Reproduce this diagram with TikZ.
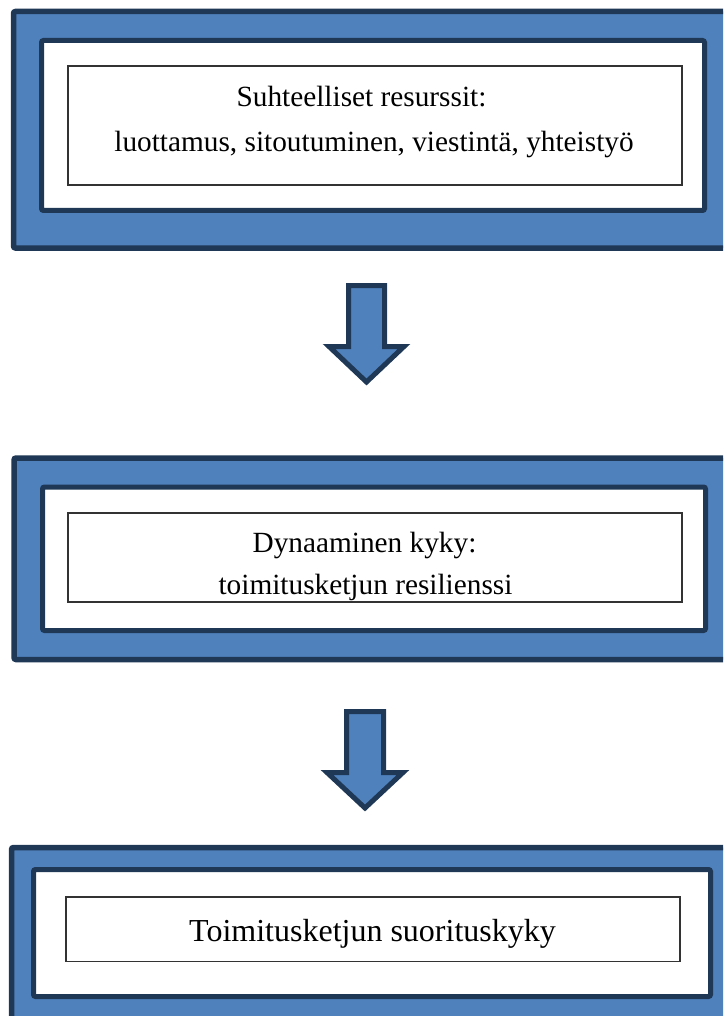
\documentclass[tikz,border=0pt]{standalone}
\usepackage{fontspec}
\setmainfont{Liberation Serif}
\definecolor{frameblue}{HTML}{4F81BD}
\definecolor{framedark}{HTML}{1F3855}
\definecolor{boxline}{HTML}{333333}
\begin{document}
\begin{tikzpicture}[x=1pt,y=-1pt,
  outerframe/.style={draw=framedark,fill=frameblue,line width=5.5pt,rounded corners=2pt},
  innerframe/.style={draw=framedark,fill=white,line width=5pt,rounded corners=2pt},
  textbox/.style={draw=boxline,fill=white,line width=1.3pt},
  blockarrow/.style={draw=framedark,fill=frameblue,line width=5pt,line join=miter},
  lbl/.style={anchor=base,inner sep=0pt,font=\fontsize{29.3}{35}\selectfont}]
\useasboundingbox (0,0) rectangle (723,1016);
\clip (0,0) rectangle (723,1016);
% box 1
\draw[outerframe] (13.5,11.5) rectangle (740,248);
\draw[innerframe] (41.5,40.5) rectangle (704.5,210.5);
\draw[textbox] (68,66) rectangle (682,185);
\node[lbl] (t1a) at (361.5,107) {Suhteelliset resurssit:};
\node[lbl] (t1b) at (374,152) {luottamus, sitoutuminen, viestintä, yhteistyö};
% arrow 1
\draw[blockarrow] (348.5,285.5) -- (384.5,285.5) -- (384.5,346.5) -- (404,346.5) -- (366.5,382) -- (329,346.5) -- (348.5,346.5) -- cycle;
% box 2
\draw[outerframe] (14,458) rectangle (740,659.5);
\draw[innerframe] (42.5,487) rectangle (705.5,630.5);
\draw[textbox] (68,513) rectangle (682,602);
\node[lbl] (t2a) at (364.5,552) {Dynaaminen kyky:};
\node[lbl] (t2b) at (365.5,594) {toimitusketjun resilienssi};
% arrow 2
\draw[blockarrow] (346.5,711.5) -- (383.5,711.5) -- (383.5,772.5) -- (403,772.5) -- (365,808) -- (327,772.5) -- (346.5,772.5) -- cycle;
% box 3
\draw[outerframe] (11.5,847.5) rectangle (740,1040);
\draw[innerframe] (33.5,869.5) rectangle (710.5,996.5);
\draw[textbox] (66,897) rectangle (680,961.5);
\node[lbl,font=\fontsize{32}{38}\selectfont] (t3) at (372.5,941) {Toimitusketjun suorituskyky};
\end{tikzpicture}
\end{document}
